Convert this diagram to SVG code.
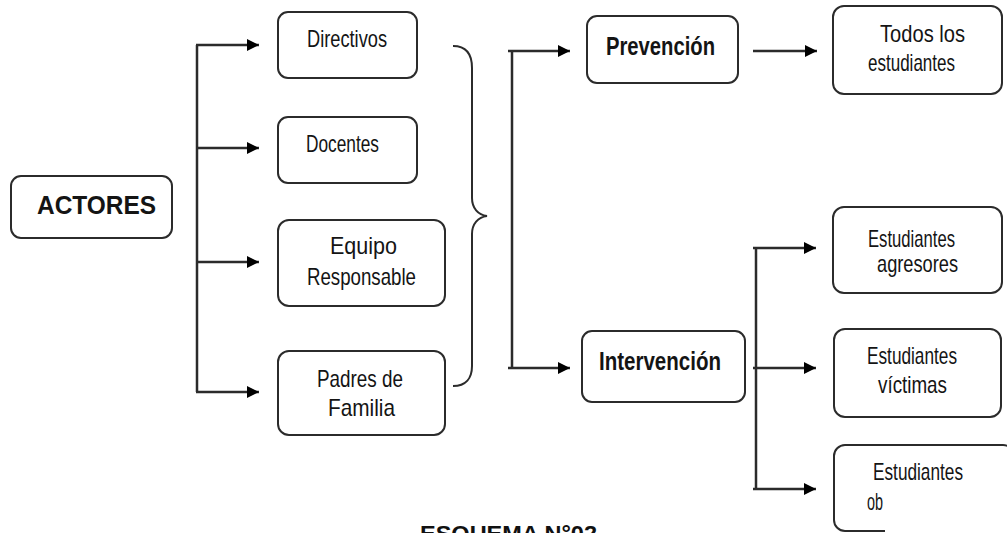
<svg xmlns="http://www.w3.org/2000/svg" width="1007" height="533" viewBox="0 0 1007 533">
  <defs>
    <style>
      .box { fill: #ffffff; stroke: #2b2b2b; stroke-width: 2; }
      .lbl { font-family: "Liberation Sans", Arial, sans-serif; font-size: 24px; fill: #141414; }
      .bold { font-weight: bold; font-size: 25px; }
      .ln { fill: none; stroke: #2b2b2b; stroke-width: 2.5; }
      .brace { fill: none; stroke: #2b2b2b; stroke-width: 2; }
    </style>
    <marker id="ah" viewBox="0 0 12 12" refX="12" refY="6" markerWidth="12" markerHeight="12" markerUnits="userSpaceOnUse" orient="auto">
      <path d="M0,0 L12,6 L0,12 Z" fill="#000"/>
    </marker>
  </defs>

  <rect width="1007" height="533" fill="#ffffff"/>

  <g id="connectors">
    <!-- Actores fan-out -->
    <line class="ln" x1="197" y1="45" x2="197" y2="392"/>
    <line class="ln" x1="196" y1="45" x2="259" y2="45" marker-end="url(#ah)"/>
    <line class="ln" x1="196" y1="148" x2="259" y2="148" marker-end="url(#ah)"/>
    <line class="ln" x1="196" y1="262" x2="259" y2="262" marker-end="url(#ah)"/>
    <line class="ln" x1="196" y1="392" x2="259" y2="392" marker-end="url(#ah)"/>
    <!-- brace -->
    <path class="brace" d="M453,46 C466,46 472,54 472,68 L472,198 C472,208 478,215 487,216 C478,217 472,224 472,234 L472,366 C472,378 466,386 453,386"/>
    <!-- brace fan-out -->
    <line class="ln" x1="512" y1="51" x2="512" y2="368"/>
    <line class="ln" x1="508" y1="51" x2="570" y2="51" marker-end="url(#ah)"/>
    <line class="ln" x1="508" y1="368" x2="570" y2="368" marker-end="url(#ah)"/>
    <!-- Prevencion to Todos -->
    <line class="ln" x1="753" y1="51" x2="817" y2="51" marker-end="url(#ah)"/>
    <!-- Intervencion fan-out -->
    <line class="ln" x1="756" y1="248" x2="756" y2="489"/>
    <line class="ln" x1="753" y1="248" x2="816" y2="248" marker-end="url(#ah)"/>
    <line class="ln" x1="753" y1="368" x2="816" y2="368" marker-end="url(#ah)"/>
    <line class="ln" x1="753" y1="489" x2="816" y2="489" marker-end="url(#ah)"/>
  </g>

  <g id="actores">
    <rect class="box" x="11" y="176" width="161" height="62" rx="10"/>
    <text class="lbl bold" x="37" y="214" textLength="119" lengthAdjust="spacingAndGlyphs">ACTORES</text>
  </g>

  <g id="directivos">
    <rect class="box" x="278" y="12" width="139" height="66" rx="10"/>
    <text class="lbl" x="307" y="47" textLength="80" lengthAdjust="spacingAndGlyphs">Directivos</text>
  </g>

  <g id="docentes">
    <rect class="box" x="278" y="117" width="139" height="66" rx="10"/>
    <text class="lbl" x="306" y="152" textLength="73" lengthAdjust="spacingAndGlyphs">Docentes</text>
  </g>

  <g id="equipo">
    <rect class="box" x="278" y="220" width="167" height="86" rx="11"/>
    <text class="lbl" x="330" y="254" textLength="67" lengthAdjust="spacingAndGlyphs">Equipo</text>
    <text class="lbl" x="307" y="285" textLength="109" lengthAdjust="spacingAndGlyphs">Responsable</text>
  </g>

  <g id="padres">
    <rect class="box" x="278" y="351" width="167" height="84" rx="11"/>
    <text class="lbl" x="317" y="387" textLength="86" lengthAdjust="spacingAndGlyphs">Padres de</text>
    <text class="lbl" x="328" y="416" textLength="67" lengthAdjust="spacingAndGlyphs">Familia</text>
  </g>

  <g id="prevencion">
    <rect class="box" x="587" y="16" width="151" height="67" rx="10"/>
    <text class="lbl bold" x="606" y="55" textLength="109" lengthAdjust="spacingAndGlyphs">Prevención</text>
  </g>

  <g id="intervencion">
    <rect class="box" x="582" y="331" width="163" height="71" rx="10"/>
    <text class="lbl bold" x="599" y="370" textLength="122" lengthAdjust="spacingAndGlyphs">Intervención</text>
  </g>

  <g id="todos">
    <rect class="box" x="833" y="6" width="169" height="88" rx="11"/>
    <text class="lbl" x="880" y="42" textLength="85" lengthAdjust="spacingAndGlyphs">Todos los</text>
    <text class="lbl" x="868" y="71" textLength="87" lengthAdjust="spacingAndGlyphs">estudiantes</text>
  </g>

  <g id="agresores">
    <rect class="box" x="833" y="207" width="169" height="86" rx="11"/>
    <text class="lbl" x="868" y="247" textLength="87" lengthAdjust="spacingAndGlyphs">Estudiantes</text>
    <text class="lbl" x="877" y="272" textLength="81" lengthAdjust="spacingAndGlyphs">agresores</text>
  </g>

  <g id="victimas">
    <rect class="box" x="834" y="329" width="167" height="88" rx="11"/>
    <text class="lbl" x="867" y="364" textLength="90" lengthAdjust="spacingAndGlyphs">Estudiantes</text>
    <text class="lbl" x="878" y="393" textLength="69" lengthAdjust="spacingAndGlyphs">víctimas</text>
  </g>

  <g id="observadores">
    <rect class="box" x="834" y="445" width="180" height="86" rx="11"/>
    <text class="lbl" x="873" y="480" textLength="90" lengthAdjust="spacingAndGlyphs">Estudiantes</text>
    <text class="lbl" x="867" y="510" textLength="16" lengthAdjust="spacingAndGlyphs">ob</text>
    <rect x="885" y="495" width="122" height="38" fill="#ffffff"/>
  </g>

  <g id="title">
    <text x="420" y="541" font-family="Liberation Sans, Arial, sans-serif" font-size="22" font-weight="bold" fill="#111" textLength="177" lengthAdjust="spacingAndGlyphs">ESQUEMA N°02</text>
  </g>
</svg>
